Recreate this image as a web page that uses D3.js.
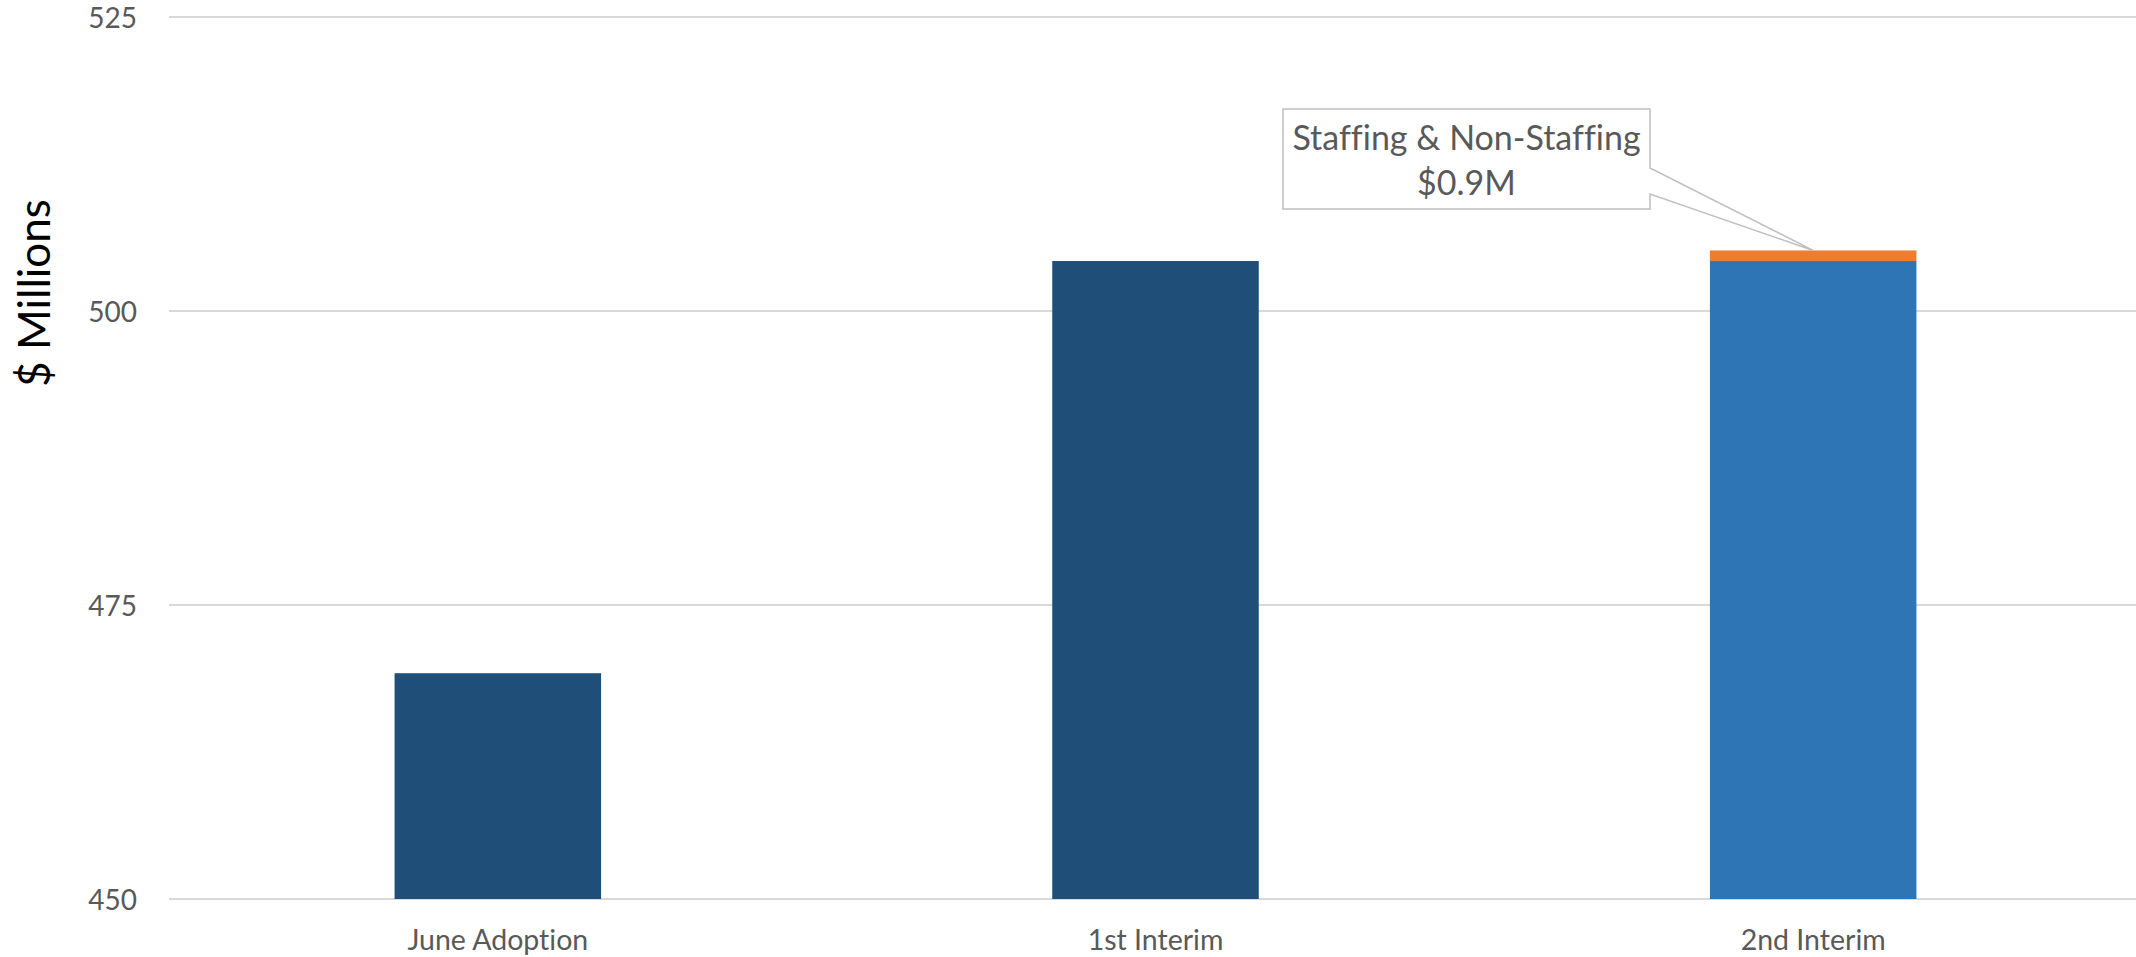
<!DOCTYPE html>
<html>
<head>
<meta charset="utf-8">
<script src="https://cdn.jsdelivr.net/npm/d3@7"></script>
<style>
  html, body { margin: 0; padding: 0; background: #fff; }
  svg { display: block; }
  text { font-variant-ligatures: none; }
</style>
</head>
<body>
<div id="chart"></div>
<script>
// chart data
const categories = ["June Adoption", "1st Interim", "2nd Interim"];
const baseValues = [469.2, 504.25, 504.25];
const addedValues = [0, 0, 0.9];
const baseColors = ["#1f4e79", "#1f4e79", "#2e75b6"];
const yTicks = [450, 475, 500, 525];
const calloutLines = ["Staffing & Non-Staffing", "$0.9M"];
const calloutIndex = 2;

const width = 2136, height = 957;
const font = "Lato, 'Open Sans', sans-serif";

const svg = d3.select("#chart").append("svg")
    .attr("width", width)
    .attr("height", height);

// plot area runs a little past the right edge of the picture
const x = d3.scaleBand()
    .domain(categories)
    .range([169, 2142])
    .paddingInner(0.686)
    .paddingOuter(0.343);

const y = d3.scaleLinear()
    .domain([450, 525])
    .range([899, 17]);

// gridlines
svg.append("g")
    .selectAll("line")
    .data(yTicks)
    .join("line")
        .attr("x1", 169)
        .attr("x2", width)
        .attr("y1", d => y(d))
        .attr("y2", d => y(d))
        .style("stroke", "#d9d9d9")
        .style("stroke-width", 2);

// y tick labels
const yAxis = svg.append("g")
    .attr("transform", "translate(137,0)")
    .call(d3.axisLeft(y).tickValues(yTicks).tickSize(0).tickPadding(0));
yAxis.select(".domain").remove();
yAxis.selectAll("text")
    .attr("font-family", font)
    .attr("font-size", 28)
    .attr("fill", "#595959")
    .attr("dy", "0.36em");

// x category labels
const xAxis = svg.append("g")
    .attr("transform", "translate(0,899)")
    .call(d3.axisBottom(x).tickSize(0).tickPadding(0));
xAxis.select(".domain").remove();
xAxis.selectAll("text")
    .attr("font-family", font)
    .attr("font-size", 28.5)
    .attr("fill", "#595959")
    .attr("y", 51)
    .attr("dy", 0);

// y axis title
svg.append("text")
    .attr("transform", "translate(50,293) rotate(-90)")
    .attr("text-anchor", "middle")
    .attr("font-family", font)
    .attr("font-size", 44)
    .attr("fill", "#000")
    .text("$ Millions");

// bars
const bars = categories.map((c, i) => ({cat: c, base: baseValues[i], added: addedValues[i], color: baseColors[i]}));

svg.append("g")
    .selectAll("rect")
    .data(bars)
    .join("rect")
        .attr("x", d => x(d.cat))
        .attr("width", x.bandwidth())
        .attr("y", d => y(d.base))
        .attr("height", d => y(450) - y(d.base))
        .attr("fill", d => d.color);

svg.append("g")
    .selectAll("rect")
    .data(bars.filter(d => d.added > 0))
    .join("rect")
        .attr("x", d => x(d.cat))
        .attr("width", x.bandwidth())
        .attr("y", d => y(d.base + d.added))
        .attr("height", d => y(d.base) - y(d.base + d.added))
        .attr("fill", "#ed7d31");

// callout
const cb = bars[calloutIndex];
const tipX = x(cb.cat) + x.bandwidth() / 2;
const tipY = y(cb.base + cb.added);
const box = {x0: 1283, x1: 1650, y0: 109, y1: 209};

const callout = svg.append("g");
callout.append("path")
    .attr("d", `M${box.x0},${box.y0} H${box.x1} V168 L${tipX},${tipY} L${box.x1},194 V${box.y1} H${box.x0} Z`)
    .attr("fill", "#fff")
    .attr("stroke", "#bfbfbf")
    .attr("stroke-width", 1.5);

callout.append("text")
    .attr("text-anchor", "middle")
    .attr("font-family", font)
    .attr("font-size", 34)
    .attr("fill", "#595959")
    .selectAll("tspan")
    .data(calloutLines)
    .join("tspan")
        .attr("x", (box.x0 + box.x1) / 2)
        .attr("y", (d, i) => 150 + i * 45)
        .text(d => d);
</script>
</body>
</html>
